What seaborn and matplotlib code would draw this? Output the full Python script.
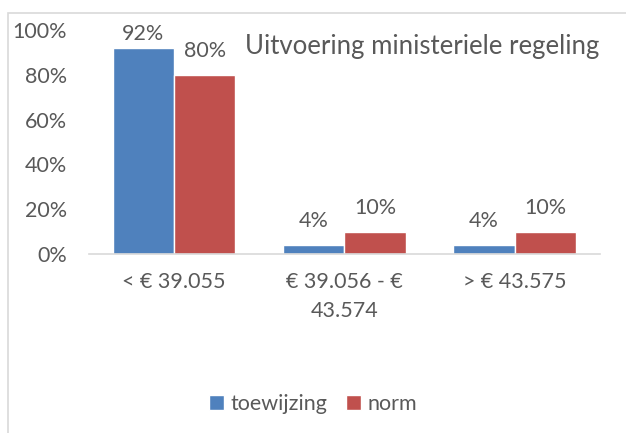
import pandas as pd
import seaborn as sns
import matplotlib.pyplot as plt
from matplotlib.patches import Rectangle

categories = ["< € 39.055", "€ 39.056 - €\n43.574", "> € 43.575"]
toewijzing = [92, 4, 4]
norm = [80, 10, 10]
series = ["toewijzing", "norm"]
colors = ["#4F81BD", "#C0504D"]
title = "Uitvoering ministeriele regeling"

grey = "#595959"
fs = 15.5

df = pd.DataFrame({
    "categorie": categories * 2,
    "reeks": [series[0]] * 3 + [series[1]] * 3,
    "waarde": toewijzing + norm,
})

sns.set_style("white")
plt.rcParams["font.family"] = ["Lato", "DejaVu Sans"]

fig = plt.figure(figsize=(6.26, 4.33), dpi=100)
ax = fig.add_axes([0.142, 0.413, 0.816, 0.518])

sns.barplot(data=df, x="categorie", y="waarde", hue="reeks",
            palette=colors, width=0.72, saturation=1, ax=ax)

for c in ax.containers:
    texts = ax.bar_label(c, fmt="%d%%", padding=10, fontsize=fs, color=grey)
    # like Excel, keep labels of tall bars pushed down inside the plot area
    for bar, t in zip(c, texts):
        if bar.get_height() > 85:
            t.xyann = (0, 3)

ax.set_ylim(0, 100)
ax.set_xlim(-0.5, 2.5)
ax.set_yticks(range(0, 101, 20))
ax.set_yticklabels([f"{v}%" for v in range(0, 101, 20)])
ax.tick_params(axis="y", length=0, pad=16, labelsize=fs, labelcolor=grey)
ax.tick_params(axis="x", length=0, pad=13, labelsize=fs, labelcolor=grey)
for lbl in ax.get_xticklabels():
    lbl.set_linespacing(1.55)
ax.set_xlabel("")
ax.set_ylabel("")
sns.despine(ax=ax, left=True)
ax.spines["bottom"].set_color("#D9D9D9")
ax.spines["bottom"].set_linewidth(1.2)

ax.text(1.0, 0.925, title, transform=ax.transAxes, ha="right", va="center",
        fontsize=18.5, color=grey)

handles, labels = ax.get_legend_handles_labels()
ax.legend_.remove()
fig.legend(handles, labels, loc="center", bbox_to_anchor=(0.5, 0.067), ncol=2,
           frameon=False, fontsize=fs, labelcolor=grey, handlelength=0.7,
           handleheight=0.7, handletextpad=0.3, columnspacing=0.9)

fig.patches.append(Rectangle((8 / 626, -0.1), 1.2, 0.1 + (1 - 13 / 433),
                             transform=fig.transFigure, fill=False,
                             edgecolor="#D9D9D9", linewidth=1.2))

fig.savefig("out.png", dpi=100)
